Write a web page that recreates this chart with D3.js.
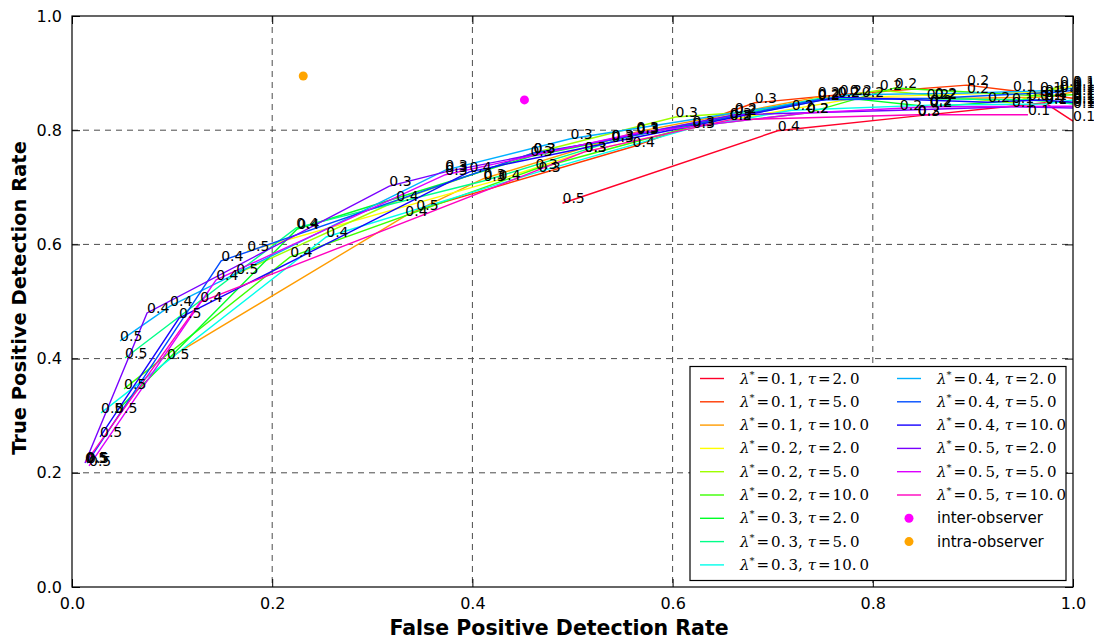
<!DOCTYPE html>
<html>
<head>
<meta charset="utf-8">
<script src="https://cdn.jsdelivr.net/npm/d3@7"></script>
<style>
  body { margin: 0; background: #fff; }
  svg { display: block; }
</style>
</head>
<body>
<svg id="chart" width="1094" height="641"></svg>
<script>
// ROC-style curves: detection rates for each (lambda*, tau) setting,
// every point annotated with its threshold.
const lambdas = [0.1, 0.1, 0.1, 0.2, 0.2, 0.2, 0.3, 0.3, 0.3, 0.4, 0.4, 0.4, 0.5, 0.5, 0.5];
const taus    = [2.0, 5.0, 10.0, 2.0, 5.0, 10.0, 2.0, 5.0, 10.0, 2.0, 5.0, 10.0, 2.0, 5.0, 10.0];

const fpr = [
  [0.490, 0.705, 0.845, 0.972, 1.000],
  [0.344, 0.560, 0.682, 0.767, 0.894, 0.940, 0.972, 1.000],
  [0.095, 0.333, 0.411, 0.564, 0.745, 0.862, 0.972, 1.000],
  [0.175, 0.426, 0.512, 0.657, 0.789, 0.967, 1.000],
  [0.164, 0.324, 0.461, 0.603, 0.662, 0.807, 0.939, 0.987],
  [0.052, 0.218, 0.463, 0.620, 0.734, 0.822, 0.967, 1.000],
  [0.043, 0.225, 0.458, 0.539, 0.765, 0.857, 0.955, 1.000],
  [0.053, 0.224, 0.411, 0.564, 0.745, 0.854, 0.972, 1.000],
  [0.029, 0.254, 0.466, 0.620, 0.719, 0.857, 0.972, 1.000],
  [0.048, 0.098, 0.373, 0.498, 0.777, 0.894, 0.987, 1.000],
  [0.015, 0.149, 0.461, 0.539, 0.745, 0.862, 0.987, 1.000],
  [0.028, 0.107, 0.397, 0.539, 0.657, 0.765, 0.915, 0.967, 1.000],
  [0.013, 0.075, 0.317, 0.373, 0.662, 0.827, 0.939, 1.000],
  [0.017, 0.144, 0.373, 0.564, 0.734, 0.857, 1.000],
  [0.014, 0.128, 0.512, 0.657, 0.845, 0.955]
];
const tpr = [
  [0.672, 0.799, 0.825, 0.848, 0.816],
  [0.660, 0.771, 0.848, 0.862, 0.879, 0.869, 0.862, 0.856],
  [0.399, 0.650, 0.715, 0.797, 0.858, 0.855, 0.858, 0.867],
  [0.588, 0.713, 0.762, 0.818, 0.858, 0.867, 0.877],
  [0.548, 0.676, 0.760, 0.823, 0.830, 0.870, 0.848, 0.877],
  [0.347, 0.578, 0.732, 0.807, 0.830, 0.874, 0.860, 0.862],
  [0.305, 0.627, 0.754, 0.783, 0.858, 0.841, 0.853, 0.848],
  [0.401, 0.629, 0.711, 0.793, 0.855, 0.855, 0.853, 0.846],
  [0.305, 0.613, 0.727, 0.804, 0.835, 0.844, 0.846, 0.853],
  [0.431, 0.492, 0.730, 0.785, 0.862, 0.865, 0.870, 0.874],
  [0.217, 0.571, 0.760, 0.783, 0.853, 0.856, 0.867, 0.870],
  [0.263, 0.471, 0.727, 0.779, 0.821, 0.858, 0.849, 0.853, 0.849],
  [0.217, 0.480, 0.702, 0.727, 0.827, 0.835, 0.841, 0.839],
  [0.212, 0.538, 0.722, 0.795, 0.830, 0.841, 0.842],
  [0.219, 0.499, 0.762, 0.818, 0.827, 0.827]
];
const thresholdLabels = [
  ["0.5", "0.4", "0.3", "0.2", "0.1"],
  ["0.5", "0.4", "0.3", "0.2", "0.2", "0.1", "0.1", "0.1"],
  ["0.5", "0.4", "0.3", "0.3", "0.2", "0.2", "0.1", "0.1"],
  ["0.5", "0.4", "0.3", "0.3", "0.2", "0.1", "0.1"],
  ["0.5", "0.4", "0.3", "0.3", "0.2", "0.2", "0.1", "0.1"],
  ["0.5", "0.4", "0.3", "0.3", "0.2", "0.2", "0.1", "0.1"],
  ["0.5", "0.4", "0.3", "0.3", "0.2", "0.2", "0.1", "0.1"],
  ["0.5", "0.4", "0.3", "0.3", "0.2", "0.2", "0.1", "0.1"],
  ["0.5", "0.4", "0.3", "0.3", "0.2", "0.2", "0.1", "0.1"],
  ["0.5", "0.4", "0.3", "0.3", "0.2", "0.2", "0.1", "0.1"],
  ["0.5", "0.4", "0.3", "0.3", "0.2", "0.2", "0.1", "0.1"],
  ["0.5", "0.5", "0.4", "0.3", "0.3", "0.2", "0.2", "0.1", "0.1"],
  ["0.5", "0.4", "0.3", "0.3", "0.2", "0.2", "0.1", "0.1"],
  ["0.5", "0.4", "0.3", "0.3", "0.2", "0.2", "0.1"],
  ["0.5", "0.4", "0.3", "0.2", "0.2", "0.1"]
];

// Observer agreement reference points
const observerNames = ["inter-observer", "intra-observer"];
const observerFpr = [0.452, 0.231];
const observerTpr = [0.853, 0.895];
const observerColors = ["#ff00ff", "#ffa500"];

const tickValues = [0, 0.2, 0.4, 0.6, 0.8, 1.0];
const tickLabels = ["0.0", "0.2", "0.4", "0.6", "0.8", "1.0"];

// gist_rainbow colour map, sampled evenly over the 15 settings
const rainbowPos = [0.000, 0.030, 0.215, 0.400, 0.586, 0.770, 0.954, 1.000];
const rainbowRgb = ["rgb(255,0,41)", "rgb(255,0,0)", "rgb(255,255,0)", "rgb(0,255,0)",
                    "rgb(0,255,255)", "rgb(0,0,255)", "rgb(255,0,255)", "rgb(255,0,191)"];
const rainbow = d3.scaleLinear().domain(rainbowPos).range(rainbowRgb).interpolate(d3.interpolateRgb);
const colors = lambdas.map((_, i) => rainbow(i / (lambdas.length - 1)));

const svg = d3.select("#chart");
const plotL = 72, plotR = 1073, plotT = 16, plotB = 587;
const x = d3.scaleLinear().domain([0, 1]).range([plotL, plotR]);
const y = d3.scaleLinear().domain([0, 1]).range([plotB, plotT]);

// dashed grid
const grid = svg.append("g").attr("stroke", "#000").attr("stroke-width", 1)
  .attr("stroke-dasharray", "6,5").attr("opacity", 0.7);
grid.selectAll("line.gx").data(tickValues.slice(1, -1)).enter().append("line")
  .attr("x1", d => x(d)).attr("x2", d => x(d)).attr("y1", plotT).attr("y2", plotB);
grid.selectAll("line.gy").data(tickValues.slice(1, -1)).enter().append("line")
  .attr("y1", d => y(d)).attr("y2", d => y(d)).attr("x1", plotL).attr("x2", plotR);

// axes with inward ticks on all four sides
const tickFont = "DejaVu Sans, sans-serif";
function styleAxis(g) {
  g.select(".domain").remove();
  g.selectAll(".tick line").attr("stroke", "#000").attr("stroke-width", 1);
  g.selectAll(".tick text").attr("font-family", tickFont).attr("font-size", 16).attr("fill", "#000");
}
const fmt = (d, i) => tickLabels[i];
svg.append("g").attr("transform", `translate(0,${plotB})`)
  .call(d3.axisBottom(x).tickValues(tickValues).tickFormat(fmt).tickSizeInner(-8).tickSizeOuter(0).tickPadding(11))
  .call(styleAxis);
svg.append("g").attr("transform", `translate(${plotL},0)`)
  .call(d3.axisLeft(y).tickValues(tickValues).tickFormat(fmt).tickSizeInner(-8).tickSizeOuter(0).tickPadding(10))
  .call(styleAxis);
svg.append("g").attr("transform", `translate(0,${plotT})`)
  .call(d3.axisTop(x).tickValues(tickValues).tickFormat("").tickSizeInner(-8).tickSizeOuter(0))
  .call(styleAxis);
svg.append("g").attr("transform", `translate(${plotR},0)`)
  .call(d3.axisRight(y).tickValues(tickValues).tickFormat("").tickSizeInner(-8).tickSizeOuter(0))
  .call(styleAxis);

// curves
const line = d3.line().x(d => x(d[0])).y(d => y(d[1]));
const seriesPts = fpr.map((xs, i) => xs.map((v, j) => [v, tpr[i][j], thresholdLabels[i][j]]));
const curves = svg.append("g").attr("fill", "none").attr("stroke-width", 1.4);
seriesPts.forEach((pts, i) => {
  curves.append("path").attr("d", line(pts)).attr("stroke", colors[i]);
});

// threshold annotations, anchored at each point
const ann = svg.append("g").attr("font-family", tickFont).attr("font-size", 14).attr("fill", "#000");
seriesPts.forEach(pts => {
  ann.selectAll(null).data(pts).enter().append("text")
    .attr("x", d => x(d[0])).attr("y", d => y(d[1])).text(d => d[2]);
});

// observer points
svg.append("g").selectAll("circle").data(observerFpr).enter().append("circle")
  .attr("cx", d => x(d)).attr("cy", (d, i) => y(observerTpr[i])).attr("r", 4.5)
  .attr("fill", (d, i) => observerColors[i]);

// frame
svg.append("rect").attr("x", plotL).attr("y", plotT).attr("width", plotR - plotL).attr("height", plotB - plotT)
  .attr("fill", "none").attr("stroke", "#000").attr("stroke-width", 1.2);

// axis titles
svg.append("text").attr("x", 559).attr("y", 635).attr("text-anchor", "middle")
  .attr("font-family", tickFont).attr("font-weight", "bold").attr("font-size", 20.5)
  .text("False Positive Detection Rate");
svg.append("text").attr("transform", `translate(26,298) rotate(-90)`)
  .attr("text-anchor", "middle").attr("font-family", tickFont).attr("font-weight", "bold").attr("font-size", 19.5)
  .text("True Positive Detection Rate");

// legend
const lg = svg.append("g");
lg.append("rect").attr("x", 690).attr("y", 366.5).attr("width", 376).attr("height", 214)
  .attr("fill", "#fff").attr("stroke", "#000").attr("stroke-width", 1.2);
const rowH = 23.3, row0 = 378.5;
const mathFont = "DejaVu Serif, serif";
function mathLabel(t, lam, tau) {
  const s = d3.format(".1f");
  const [la, lb] = s(lam).split(".");
  const [ta, tb] = s(tau).split(".");
  t.append("tspan").attr("font-style", "italic").text("λ");
  t.append("tspan").attr("font-size", 10).attr("dy", -6).text("*");
  t.append("tspan").attr("dy", 6).attr("dx", 2).text("=");
  t.append("tspan").attr("dx", 2).text(la + ".");
  t.append("tspan").attr("dx", 3).text(lb + ",");
  t.append("tspan").attr("dx", 5).attr("font-style", "italic").text("τ");
  t.append("tspan").attr("dx", 2).text("=");
  t.append("tspan").attr("dx", 2).text(ta + ".");
  t.append("tspan").attr("dx", 3).text(tb);
}
lambdas.forEach((lam, i) => {
  const col = i < 9 ? 0 : 1;
  const r = col === 0 ? i : i - 9;
  const lx = col === 0 ? 700 : 897;
  const cy = row0 + r * rowH;
  lg.append("line").attr("x1", lx).attr("x2", lx + 24).attr("y1", cy).attr("y2", cy)
    .attr("stroke", colors[i]).attr("stroke-width", 1.4);
  const t = lg.append("text").attr("x", lx + 40).attr("y", cy + 5)
    .attr("font-family", mathFont).attr("font-size", 15).attr("fill", "#000");
  mathLabel(t, lam, taus[i]);
});
observerNames.forEach((name, k) => {
  const cy = row0 + (6 + k) * rowH;
  lg.append("circle").attr("cx", 909).attr("cy", cy).attr("r", 4.5).attr("fill", observerColors[k]);
  lg.append("text").attr("x", 937).attr("y", cy + 5).attr("font-family", tickFont).attr("font-size", 15)
    .attr("fill", "#000").text(name);
});
</script>
</body>
</html>
